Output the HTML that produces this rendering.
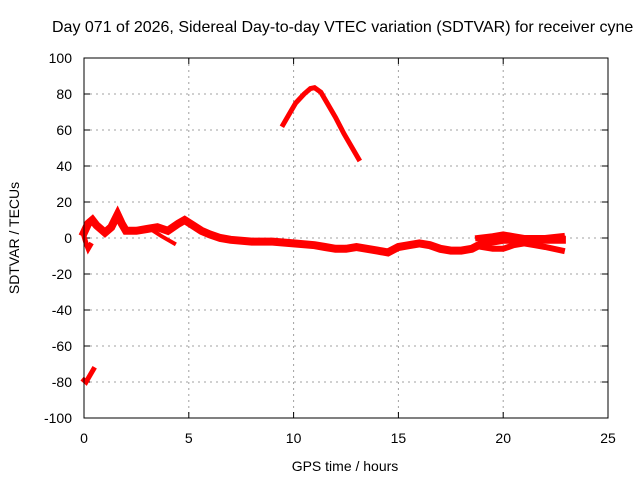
<!DOCTYPE html>
<html><head><meta charset="utf-8"><style>
body{margin:0;background:#fff;overflow:hidden}
svg{display:block;font-family:"Liberation Sans",Arial,sans-serif;font-size:14px}
</style></head><body>
<svg id="c" width="640" height="480">
<text x="52" y="32" style="font-size:16px">Day 071 of 2026, Sidereal Day-to-day VTEC variation (SDTVAR) for receiver cyne</text>
<g id="grid"></g>
<g id="ax"></g>
<g id="data"></g>
<rect x="84" y="58" width="524" height="360" fill="none" stroke="#000" stroke-width="1"/>
<text x="345" y="471" text-anchor="middle">GPS time / hours</text>
<text x="0" y="0" transform="translate(19,238) rotate(-90)" text-anchor="middle">SDTVAR / TECUs</text>
</svg>
<script>
const xTicks=[0,5,10,15,20,25];
const yTicks=[100,80,60,40,20,0,-20,-40,-60,-80,-100];
const arcT=[9.5,9.8,10.1,10.5,10.8,11,11.3,11.6,12,12.4,12.8,13.1];
const arcV=[63,69,75,80,83,83.5,81,75,67,58,50,44];
const mainT=[0,0.2,0.4,0.6,0.8,1,1.3,1.6,1.8,2,2.5,3,3.5,4,4.5,4.8,5.2,5.6,6,6.5,7,8,9,10,11,11.5,12,12.5,13,13.5,14,14.5,15,15.5,16,16.5,17,17.5,18,18.5,19,19.5,20,20.5,21,21.5,22,22.8];
const mainV=[3,8,10,7,5,3,6,13,8,4,4,5,6,4,8,10,7,4,2,0,-1,-2,-2,-3,-4,-5,-6,-6,-5,-6,-7,-8,-5,-4,-3,-4,-6,-7,-7,-6,-3,-2,-1,-1,-2,-1,-1,-1];
const lowT=[19,19.5,20,20.5,21,21.5,22,22.8];
const lowV=[-5,-6,-6,-4,-3,-4,-5,-7];
const upT=[18.8,19.5,20,20.5,21,21.5,22,22.8];
const upV=[0,1,2,1,0,0,0,1];
const dipT=[0,0.1,0.2,0.3];
const dipV=[1,-3,-6,-4];
const brT=[3.3,3.7,4,4.3];
const brV=[4,1,-1,-3];
const negT=[0,0.1,0.2,0.3,0.45];
const negV=[-79,-80,-78,-76,-73];
const X=t=>84+t*524/25, Y=v=>238-v*1.8;
const NS='http://www.w3.org/2000/svg';
function mk(p,tag,a){const e=document.createElementNS(NS,tag);for(const k in a)e.setAttribute(k,a[k]);p.appendChild(e);return e;}
const grid=document.getElementById('grid'),ax=document.getElementById('ax'),d=document.getElementById('data');
xTicks.forEach(t=>{
  if(t>0&&t<25){const l=mk(grid,'line',{x1:X(t),x2:X(t),y1:58,y2:418,stroke:'#a0a0a0','stroke-dasharray':'2,4'});
  
  }
  mk(ax,'line',{x1:X(t),x2:X(t),y1:418,y2:412,stroke:'#000'});
  mk(ax,'line',{x1:X(t),x2:X(t),y1:58,y2:64,stroke:'#000'});
  const tx=mk(ax,'text',{x:X(t),y:443,'text-anchor':'middle'});tx.textContent=t;
  
  
});
yTicks.forEach(v=>{
  if(v>-100&&v<100){const l=mk(grid,'line',{x1:84,x2:608,y1:Y(v),y2:Y(v),stroke:'#a0a0a0','stroke-dasharray':'2,4'});
  
  }
  mk(ax,'line',{x1:84,x2:90,y1:Y(v),y2:Y(v),stroke:'#000'});
  mk(ax,'line',{x1:608,x2:602,y1:Y(v),y2:Y(v),stroke:'#000'});
  const tx=mk(ax,'text',{x:72,y:Y(v)+5,'text-anchor':'end'});tx.textContent=v;
  
  
});
function series(T,V,w,name){
  const p=mk(d,'polyline',{points:T.map((t,i)=>X(t)+','+Y(V[i])).join(' '),fill:'none',stroke:'#ff0000','stroke-width':w,'stroke-linejoin':'miter','stroke-linecap':'square'});
  
  
}
series(arcT,arcV,5,'arc-series');
series(mainT,mainV,8,'main-series');
series(lowT,lowV,6,'lower-band-series');
series(upT,upV,6,'upper-band-series');
series(dipT,dipV,5,'dip-series');
series(brT,brV,4,'branch-series');
series(negT,negV,5,'negative-series');
</script>
</body></html>
